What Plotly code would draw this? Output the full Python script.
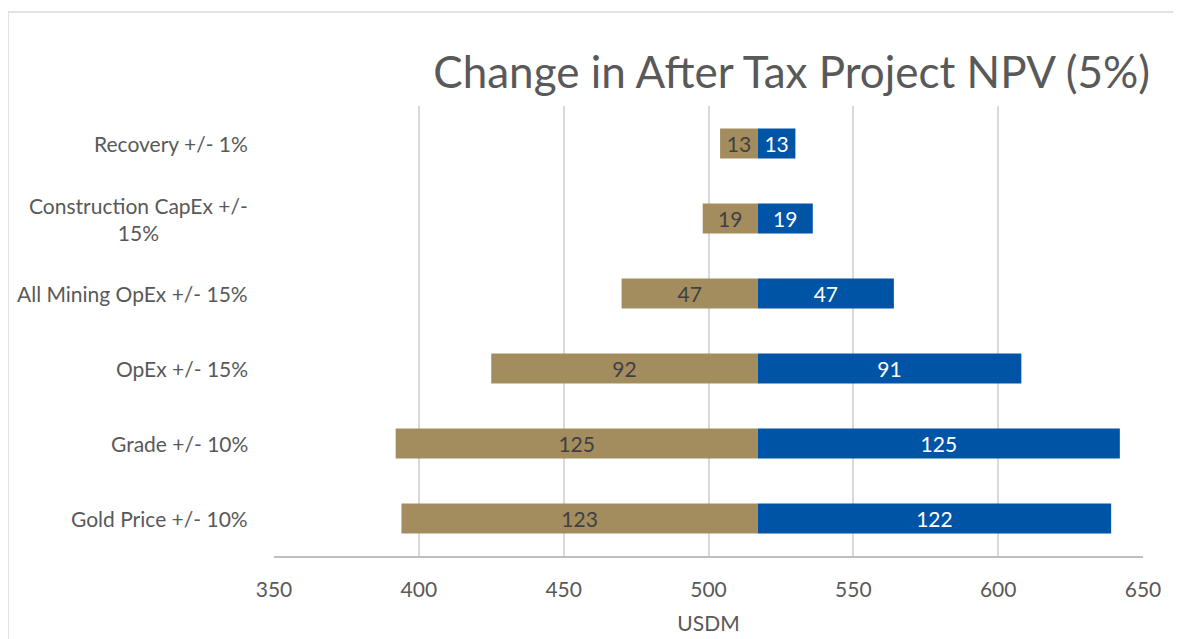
import plotly.graph_objects as go

BASE = 517
CATEGORIES = [
    "Recovery +/- 1%",
    "Construction CapEx +/- 15%",
    "All Mining OpEx +/- 15%",
    "OpEx +/- 15%",
    "Grade +/- 10%",
    "Gold Price +/- 10%",
]
LABELS = [
    "Recovery +/- 1%",
    "Construction CapEx +/-<br>15%",
    "All Mining OpEx +/- 15%",
    "OpEx +/- 15%",
    "Grade +/- 10%",
    "Gold Price +/- 10%",
]
DOWNSIDE = [13, 19, 47, 92, 125, 123]
UPSIDE = [13, 19, 47, 91, 125, 122]

FONT = "Lato"
GREY = "#595959"
TAN = "#A38D5F"
BLUE = "#0054A6"

# page has an 8px body margin, so figure coords = page coords - 8
PLOT_L, PLOT_R, PLOT_T, PLOT_B = 266, 1135, 98, 548
PLOT_W = PLOT_R - PLOT_L
PLOT_H = PLOT_B - PLOT_T

fig = go.Figure()
fig.add_bar(
    y=CATEGORIES,
    x=DOWNSIDE,
    base=[BASE - v for v in DOWNSIDE],
    orientation="h",
    marker=dict(color=TAN, line=dict(width=0)),
    text=[str(v) for v in DOWNSIDE],
    textposition="inside",
    insidetextanchor="middle",
    textangle=0,
    constraintext="none",
    textfont=dict(color="#404040", size=21, family=FONT),
    width=0.4,
    hoverinfo="skip",
)
fig.add_bar(
    y=CATEGORIES,
    x=UPSIDE,
    base=[BASE] * len(UPSIDE),
    orientation="h",
    marker=dict(color=BLUE, line=dict(width=0)),
    text=[str(v) for v in UPSIDE],
    textposition="inside",
    insidetextanchor="middle",
    textangle=0,
    constraintext="none",
    textfont=dict(color="white", size=21, family=FONT),
    width=0.4,
    hoverinfo="skip",
)

# category labels as annotations so the wrapped one is centred like the original
for cat, label in zip(CATEGORIES, LABELS):
    fig.add_annotation(
        text=label,
        xref="paper",
        yref="y",
        x=-24 / PLOT_W,
        y=cat,
        xanchor="right",
        yanchor="middle",
        align="center",
        showarrow=False,
        font=dict(size=21, color=GREY, family=FONT),
    )

fig.update_layout(
    width=1181,
    height=639,
    barmode="overlay",
    showlegend=False,
    plot_bgcolor="white",
    paper_bgcolor="white",
    font=dict(family=FONT, color=GREY, size=21),
    title=dict(
        text="Change in After Tax Project NPV (5%)",
        font=dict(size=44, color=GREY, family=FONT),
        x=1142 / 1181,
        xanchor="right",
        y=1 - 65 / 639,
        yanchor="middle",
    ),
    margin=dict(l=PLOT_L, r=1181 - PLOT_R, t=PLOT_T, b=639 - PLOT_B),
    xaxis=dict(
        range=[350, 650],
        tick0=350,
        dtick=50,
        showgrid=True,
        gridcolor="#D9D9D9",
        gridwidth=1.5,
        zeroline=False,
        showline=True,
        linecolor="#BFBFBF",
        linewidth=1.5,
        ticks="",
        ticklabelstandoff=14,
        tickfont=dict(size=21, color=GREY),
        title=dict(text="USDM", font=dict(size=21, color=GREY), standoff=16),
    ),
    yaxis=dict(
        categoryorder="array",
        categoryarray=CATEGORIES,
        autorange="reversed",
        showticklabels=False,
        showgrid=False,
        zeroline=False,
        showline=False,
        ticks="",
    ),
    shapes=[
        dict(
            type="rect",
            xref="paper",
            yref="paper",
            x0=(0 - PLOT_L) / PLOT_W,
            x1=(1250 - PLOT_L) / PLOT_W,
            y0=(PLOT_B - 700) / PLOT_H,
            y1=(PLOT_B - 4) / PLOT_H,
            line=dict(color="#D9D9D9", width=1.5),
            fillcolor="rgba(0,0,0,0)",
            layer="below",
        )
    ],
)

fig.write_html("out.html")
